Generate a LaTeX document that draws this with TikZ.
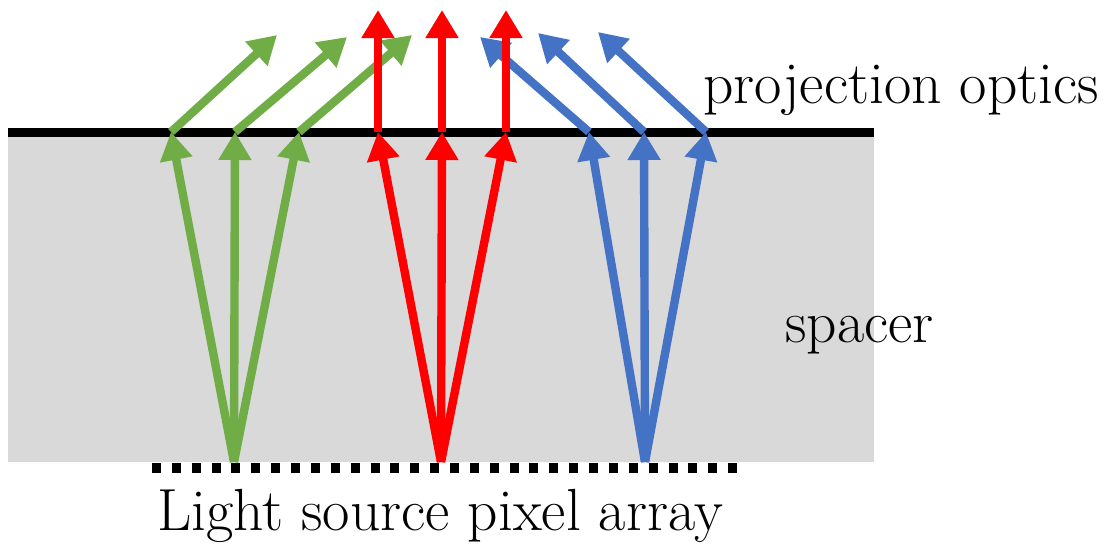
\documentclass[tikz,border=0pt]{standalone}
\usetikzlibrary{arrows.meta}
\definecolor{spacergray}{HTML}{D9D9D9}
\definecolor{rgreen}{HTML}{70AD47}
\definecolor{rred}{HTML}{FF0000}
\definecolor{rblue}{HTML}{4472C4}
\tikzset{
  ray/.style={line width=6.3pt, -{Triangle[length=21pt,width=23.5pt]}},
  lbl/.style={anchor=base, inner sep=0pt, font=\fontsize{44.6}{50}\selectfont},
}
\begin{document}
\begin{tikzpicture}[x=0.75pt,y=-0.75pt]
\useasboundingbox (0,0) rectangle (1109,543);
% spacer
\fill[spacergray] (8,137) rectangle (874,462);
\draw[line width=6.75pt] (8,132.5) -- (874,132.5);
% pixel array
\draw[line width=7.5pt, dash pattern=on 6.75pt off 8.15pt] (152,467.5) -- (737,467.5);
% coordinates
\coordinate (gs) at (234,462);
\coordinate (rs) at (441,462);
\coordinate (bs) at (645,462);
\coordinate (g1) at (171,132);
\coordinate (g2) at (235,132);
\coordinate (g3) at (299,132);
\coordinate (r1) at (378,132);
\coordinate (r2) at (442,132);
\coordinate (r3) at (506,132);
\coordinate (b1) at (589,132);
\coordinate (b2) at (644,132);
\coordinate (b3) at (706,132);
\coordinate (g1t) at (277,35);
\coordinate (g2t) at (347,37);
\coordinate (g3t) at (412,35);
\coordinate (r1t) at (378,10);
\coordinate (r2t) at (442,10);
\coordinate (r3t) at (506,10);
\coordinate (b1t) at (480,37);
\coordinate (b2t) at (538,33);
\coordinate (b3t) at (598,32);
% lower rays
\foreach \t in {g1,g2,g3} \draw[ray, rgreen] (gs) -- (\t);
\foreach \t in {r1,r2,r3} \draw[ray, rred] (rs) -- (\t);
\foreach \t in {b1,b2,b3} \draw[ray, rblue] (bs) -- (\t);
% upper rays
\foreach \t in {g1,g2,g3} \draw[ray, rgreen] (\t) -- (\t t);
\foreach \t in {b1,b2,b3} \draw[ray, rblue] (\t) -- (\t t);
\foreach \t in {r1,r2,r3} \draw[ray, rred] (\t) -- (\t t);
% labels
\node[lbl, anchor=base west] (po) at (703,103) {projection optics};
\node[lbl, anchor=base west] (sp) at (785,342) {spacer};
\node[lbl] (ls) at (440,530) {Light source pixel array};
\end{tikzpicture}
\end{document}
